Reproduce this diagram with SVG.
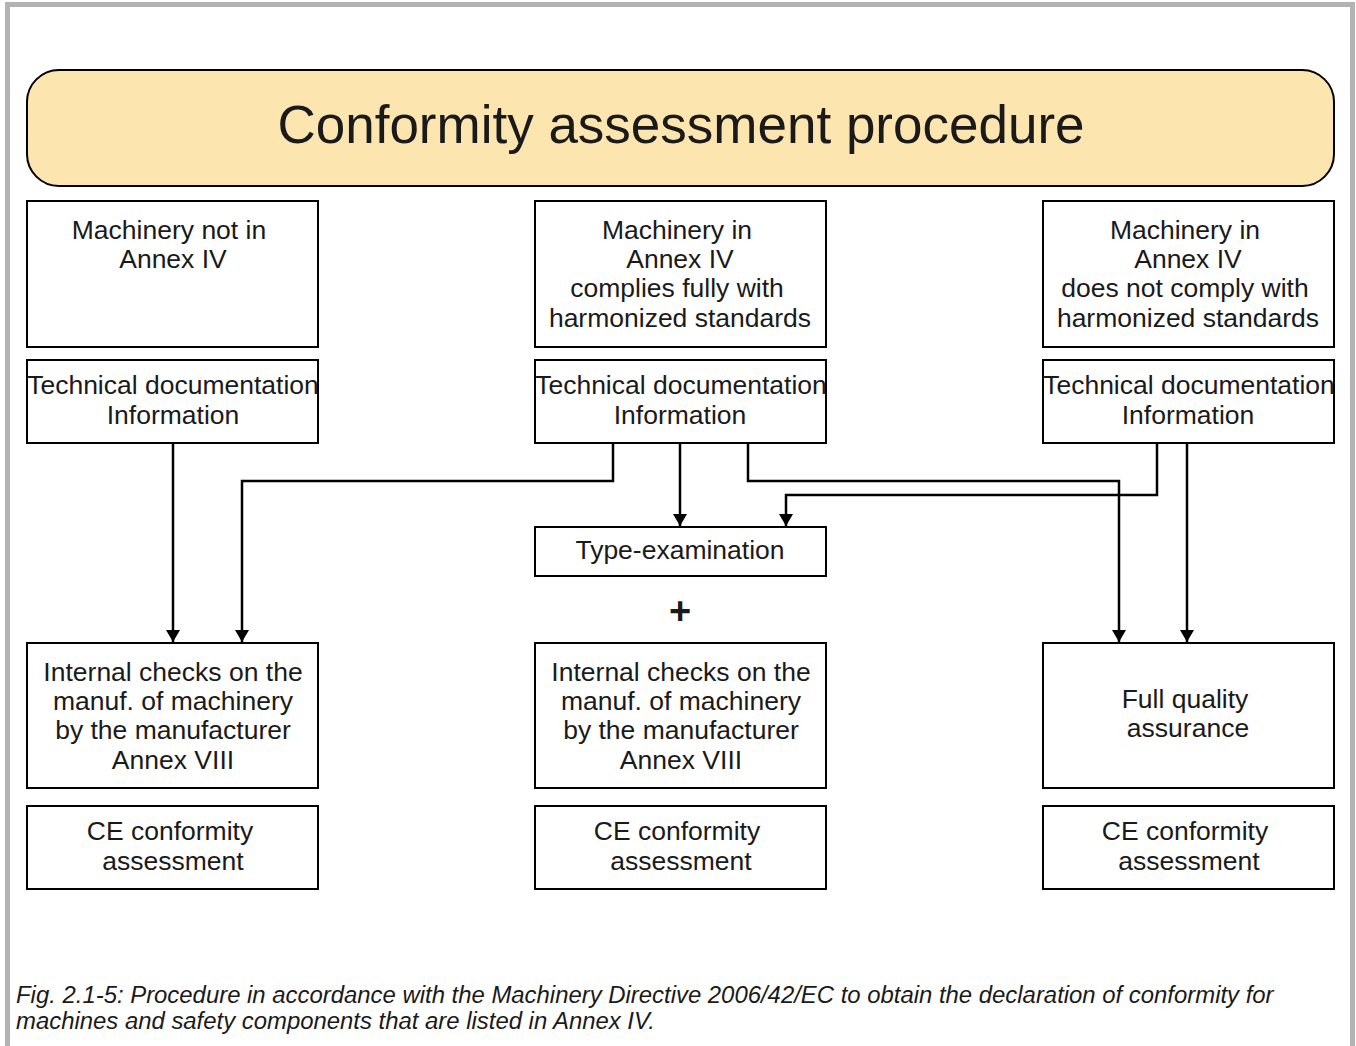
<svg xmlns="http://www.w3.org/2000/svg" width="1356" height="1046" viewBox="0 0 1356 1046">
<defs>
<marker id="arr" markerWidth="12" markerHeight="14" refX="12" refY="7" orient="auto" markerUnits="userSpaceOnUse" viewBox="0 0 12 14">
<path d="M0,0 L12,7 L0,14 Z" fill="#000"/>
</marker>
<style>
.box{fill:#fff;stroke:#000;stroke-width:2}
.t{font-family:"Liberation Sans",Arial,sans-serif;font-size:26.5px;fill:#1a1a1a;text-anchor:middle}
.c{fill:none;stroke:#000;stroke-width:2.5}
</style>
</defs>
<rect x="0" y="0" width="1356" height="1046" fill="#fff"/>
<path d="M7.5,1046 V4.5 H1352.5 V1046" fill="none" stroke="#b3b3b3" stroke-width="5"/>
<g id="title">
<rect x="27" y="70" width="1307" height="116" rx="32" fill="#fde5b0" stroke="#000" stroke-width="2"/>
<text x="681" y="143" font-family="Liberation Sans,Arial,sans-serif" font-size="53" fill="#1a1a1a" text-anchor="middle">Conformity assessment procedure</text>
</g>
<g id="n1"><rect class="box" x="27" y="201" width="291" height="146"/><text class="t" x="169" y="239">Machinery not in</text><text class="t" x="173" y="268">Annex IV</text></g>
<g id="n2"><rect class="box" x="535" y="201" width="291" height="146"/><text class="t" x="677" y="239">Machinery in</text><text class="t" x="680" y="268">Annex IV</text><text class="t" x="677" y="297">complies fully with</text><text class="t" x="680" y="327">harmonized standards</text></g>
<g id="n3"><rect class="box" x="1043" y="201" width="291" height="146"/><text class="t" x="1185" y="239">Machinery in</text><text class="t" x="1188" y="268">Annex IV</text><text class="t" x="1185" y="297">does not comply with</text><text class="t" x="1188" y="327">harmonized standards</text></g>
<g id="d1"><rect class="box" x="27" y="360" width="291" height="83"/><text class="t" x="173" y="394">Technical documentation</text><text class="t" x="173" y="424">Information</text></g>
<g id="d2"><rect class="box" x="535" y="360" width="291" height="83"/><text class="t" x="681" y="394">Technical documentation</text><text class="t" x="680" y="424">Information</text></g>
<g id="d3"><rect class="box" x="1043" y="360" width="291" height="83"/><text class="t" x="1189" y="394">Technical documentation</text><text class="t" x="1188" y="424">Information</text></g>
<g id="te"><rect class="box" x="535" y="527" width="291" height="49"/><text class="t" x="680" y="559">Type-examination</text></g>
<g id="plus"><text class="t" x="680" y="624" style="font-size:38px;font-weight:bold">+</text></g>
<g id="i1"><rect class="box" x="27" y="643" width="291" height="145"/><text class="t" x="173" y="681">Internal checks on the</text><text class="t" x="173" y="710">manuf. of machinery</text><text class="t" x="173" y="739">by the manufacturer</text><text class="t" x="173" y="769">Annex VIII</text></g>
<g id="i2"><rect class="box" x="535" y="643" width="291" height="145"/><text class="t" x="681" y="681">Internal checks on the</text><text class="t" x="681" y="710">manuf. of machinery</text><text class="t" x="681" y="739">by the manufacturer</text><text class="t" x="681" y="769">Annex VIII</text></g>
<g id="q3"><rect class="box" x="1043" y="643" width="291" height="145"/><text class="t" x="1185" y="708">Full quality</text><text class="t" x="1188" y="737">assurance</text></g>
<g id="ce1"><rect class="box" x="27" y="806" width="291" height="83"/><text class="t" x="170" y="840">CE conformity</text><text class="t" x="173" y="870">assessment</text></g>
<g id="ce2"><rect class="box" x="535" y="806" width="291" height="83"/><text class="t" x="677" y="840">CE conformity</text><text class="t" x="681" y="870">assessment</text></g>
<g id="ce3"><rect class="box" x="1043" y="806" width="291" height="83"/><text class="t" x="1185" y="840">CE conformity</text><text class="t" x="1189" y="870">assessment</text></g>
<g id="connectors">
<path class="c" d="M173,444 V642" marker-end="url(#arr)"/>
<path class="c" d="M613,444 V481 H242 V642" marker-end="url(#arr)"/>
<path class="c" d="M680,444 V526" marker-end="url(#arr)"/>
<path class="c" d="M748,444 V481 H1119 V642" marker-end="url(#arr)"/>
<path class="c" d="M1157,444 V495 H786 V526" marker-end="url(#arr)"/>
<path class="c" d="M1187,444 V642" marker-end="url(#arr)"/>
</g>
<g id="caption" font-family="Liberation Sans,Arial,sans-serif" font-size="23.9" font-style="italic" fill="#1a1a1a">
<text x="16" y="1003">Fig. 2.1-5: Procedure in accordance with the Machinery Directive 2006/42/EC to obtain the declaration of conformity for</text>
<text x="16" y="1029">machines and safety components that are listed in Annex IV.</text>
</g>
</svg>
